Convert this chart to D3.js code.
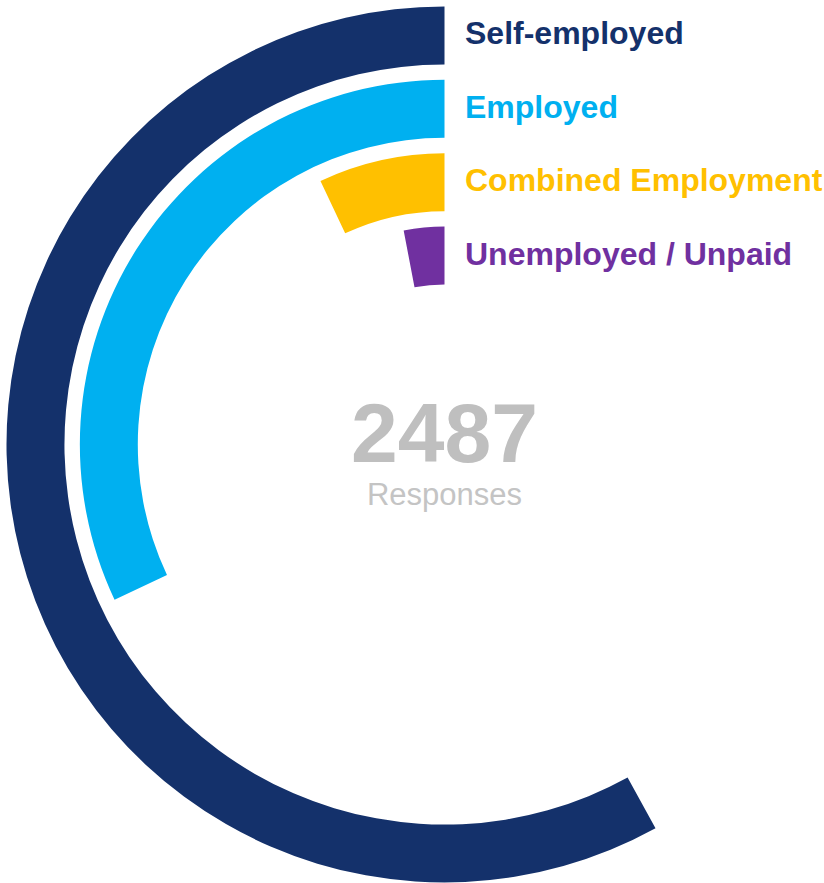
<!DOCTYPE html>
<html>
<head>
<meta charset="utf-8">
<script src="https://cdn.jsdelivr.net/npm/d3@7"></script>
<style>
  html, body { margin: 0; padding: 0; background: #ffffff; }
  svg { display: block; }
  text { font-family: "Liberation Sans", Arial, Helvetica, sans-serif; }
</style>
</head>
<body>
<svg id="chart" width="824" height="883"></svg>
<script>
// Employment status of respondents (share of responses, %)
const categories = ["Self-employed", "Employed", "Combined Employment", "Unemployed / Unpaid"];
const shares = [58, 32, 7, 3];
const colors = ["#14316b", "#00b0f0", "#ffc000", "#7030a0"];
const totalResponses = 2487;
const totalLabel = "Responses";

const width = 824, height = 883;
const cx = 444.5, cy = 444.5;

const svg = d3.select("#chart");
const g = svg.append("g").attr("transform", `translate(${cx},${cy})`);

// One ring per category, outermost first (band start = inner edge)
const radius = d3.scaleBand()
  .domain(categories)
  .range([438, 160])
  .paddingInner(0.21);

// Rings sweep counter-clockwise from 12 o'clock; a full turn is 100%
const angle = d3.scaleLinear().domain([0, 100]).range([0, -2 * Math.PI]);

const arc = d3.arc()
  .innerRadius(d => radius(d.category))
  .outerRadius(d => radius(d.category) + radius.bandwidth())
  .startAngle(0)
  .endAngle(d => angle(d.value));

const rows = categories.map((c, i) => ({ category: c, value: shares[i], color: colors[i] }));

g.selectAll("path.ring")
  .data(rows)
  .join("path")
  .attr("class", "ring")
  .attr("d", arc)
  .attr("fill", d => d.color);

// Category labels beside the top of each ring
g.selectAll("text.label")
  .data(rows)
  .join("text")
  .attr("class", "label")
  .attr("x", 465 - cx)
  .attr("y", d => -(radius(d.category) + radius.bandwidth() / 2) + 9)
  .attr("font-size", 32)
  .attr("font-weight", "bold")
  .attr("fill", d => d.color)
  .text(d => d.category);

// Total in the middle
g.append("text")
  .attr("x", 0)
  .attr("y", 462 - cy)
  .attr("text-anchor", "middle")
  .attr("font-size", 84)
  .attr("font-weight", "bold")
  .attr("fill", "#bfbfbf")
  .text(totalResponses);

g.append("text")
  .attr("x", 0)
  .attr("y", 505 - cy)
  .attr("text-anchor", "middle")
  .attr("font-size", 31)
  .attr("fill", "#c4c4c4")
  .text(totalLabel);
</script>
</body>
</html>
